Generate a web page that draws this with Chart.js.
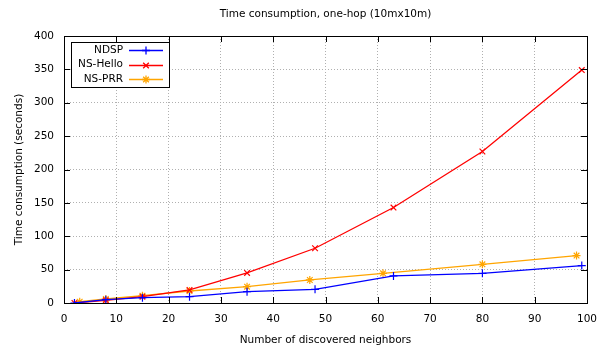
<!DOCTYPE html>
<html>
<head>
<meta charset="utf-8">
<script src="https://cdn.jsdelivr.net/npm/chart.js@4"></script>
<style>
html,body{margin:0;padding:0;background:#fff;}
#wrap{width:609px;height:349px;position:relative;}
</style>
</head>
<body>
<div id="wrap"><canvas id="c" width="609" height="349"></canvas></div>
<script>
const chartTitle = "Time consumption, one-hop (10mx10m)";
const xTitle = "Number of discovered neighbors";
const yTitle = "Time consumption (seconds)";
const seriesNames = ["NDSP", "NS-Hello", "NS-PRR"];
const ndspX = [2, 8, 15, 24, 35, 48, 63, 80, 99];
const ndspY = [0, 5, 8, 9.5, 17, 20.5, 40.5, 44.5, 56];
const helloX = [2, 8, 15, 24, 35, 48, 63, 80, 99];
const helloY = [0, 4, 9.5, 19.5, 45, 82, 143, 227, 349];
const prrX = [3, 8, 15, 24, 35, 47, 61, 80, 98];
const prrY = [2, 6, 11, 18, 24.5, 34.5, 44.5, 58, 71];
const xTicks = [0, 10, 20, 30, 40, 50, 60, 70, 80, 90, 100];
const yTicks = [0, 50, 100, 150, 200, 250, 300, 350, 400];

const FONT = "DejaVu Sans";
const FS = 10.5;
const pts = (xs, ys) => xs.map((x, i) => ({x: x, y: ys[i]}));

const frame = {
  id: 'frame',
  afterDraw(chart) {
    const {ctx, chartArea: a, scales} = chart;
    ctx.save();
    ctx.strokeStyle = '#000';
    ctx.lineWidth = 1;
    ctx.setLineDash([]);
    ctx.strokeRect(Math.round(a.left) + 0.5, Math.round(a.top) + 0.5,
                   Math.round(a.right - a.left), Math.round(a.bottom - a.top));
    const tl = 6;
    ctx.beginPath();
    xTicks.forEach(v => {
      const x = Math.round(scales.x.getPixelForValue(v)) + 0.5;
      ctx.moveTo(x, a.bottom); ctx.lineTo(x, a.bottom - tl);
      ctx.moveTo(x, a.top); ctx.lineTo(x, a.top + tl);
    });
    yTicks.forEach(v => {
      const y = Math.round(scales.y.getPixelForValue(v)) + 0.5;
      ctx.moveTo(a.left, y); ctx.lineTo(a.left + tl, y);
      ctx.moveTo(a.right, y); ctx.lineTo(a.right - tl, y);
    });
    ctx.stroke();
    // title
    ctx.fillStyle = '#000';
    ctx.font = FS + 'px "' + FONT + '"';
    ctx.textAlign = 'center';
    ctx.textBaseline = 'middle';
    ctx.fillText(chartTitle, (a.left + a.right) / 2, 14);
    // legend
    const bx = 71, by = 42, bw = 98, bh = 45;
    ctx.fillStyle = '#fff';
    ctx.fillRect(bx, by, bw, bh);
    ctx.strokeStyle = '#000';
    ctx.strokeRect(bx + 0.5, by + 0.5, bw, bh);
    chart.data.datasets.forEach((ds, i) => {
      const yy = 50 + i * 14.5;
      ctx.fillStyle = '#000';
      ctx.textAlign = 'right';
      ctx.fillText(ds.label, 123, yy);
      ctx.strokeStyle = ds.borderColor;
      ctx.lineWidth = 1.3;
      ctx.beginPath();
      ctx.moveTo(129, Math.round(yy) + 0.5);
      ctx.lineTo(163, Math.round(yy) + 0.5);
      ctx.stroke();
      Chart.helpers.drawPoint(ctx, {pointStyle: ds.pointStyle, radius: 4, borderWidth: 1.2, rotation: 0}, 146, Math.round(yy) + 0.5);
    });
    ctx.restore();
  }
};

new Chart(document.getElementById('c'), {
  type: 'scatter',
  data: {
    datasets: [
      {label: seriesNames[0], data: pts(ndspX, ndspY), borderColor: '#0000ff', backgroundColor: '#0000ff', pointStyle: 'cross'},
      {label: seriesNames[1], data: pts(helloX, helloY), borderColor: '#ff0000', backgroundColor: '#ff0000', pointStyle: 'crossRot'},
      {label: seriesNames[2], data: pts(prrX, prrY), borderColor: '#ffa500', backgroundColor: '#ffa500', pointStyle: 'star'}
    ].map(d => Object.assign(d, {showLine: true, borderWidth: 1.3, pointRadius: 4, pointBorderWidth: 1.2, tension: 0}))
  },
  options: {
    responsive: false,
    animation: false,
    events: [],
    layout: {padding: {left: 0, right: 22, top: 36, bottom: 0}},
    plugins: {legend: {display: false}, tooltip: {enabled: false}, title: {display: false}},
    scales: {
      x: {
        type: 'linear', min: 0, max: 100,
        afterFit: s => { s.height = 46; },
        afterBuildTicks: s => { s.ticks = xTicks.map(v => ({value: v})); },
        ticks: {color: '#000', font: {family: FONT, size: FS}, padding: 10, maxRotation: 0},
        grid: {color: '#b0b0b0', drawTicks: false, lineWidth: 1},
        border: {display: false, dash: [1, 2]},
        title: {display: true, text: xTitle, color: '#000', font: {family: FONT, size: FS}, padding: {top: 0, bottom: 2}}
      },
      y: {
        type: 'linear', min: 0, max: 400,
        afterFit: s => { s.width = 64; },
        afterBuildTicks: s => { s.ticks = yTicks.map(v => ({value: v})); },
        ticks: {color: '#000', font: {family: FONT, size: FS}, padding: 10},
        grid: {color: '#b0b0b0', drawTicks: false, lineWidth: 1},
        border: {display: false, dash: [1, 2]},
        title: {display: true, text: yTitle, color: '#000', font: {family: FONT, size: FS}, padding: {top: 13, bottom: 0}}
      }
    }
  },
  plugins: [frame]
});
</script>
</body>
</html>
